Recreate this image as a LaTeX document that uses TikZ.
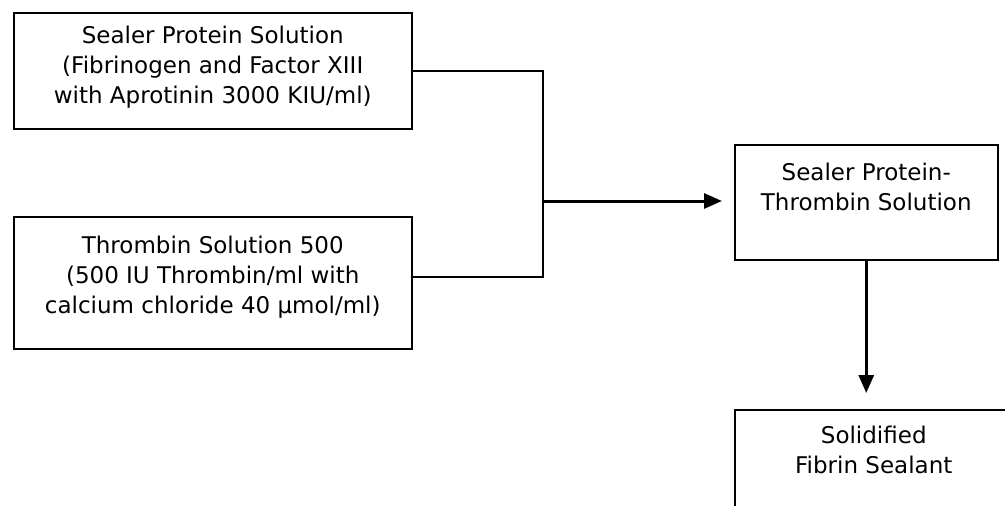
\documentclass[tikz,border=0pt]{standalone}
\usepackage{fontspec}
\setmainfont{DejaVu Sans}
\usetikzlibrary{arrows.meta}
\newcommand{\bxt}[4]
{
	\parbox[c][#2][t]{#1}{\centering\fontsize{23}{30}\selectfont\vspace*{#3}\strut #4}
}
\tikzset{
	stepbox/.style={draw, line width=1.5pt, inner sep=0pt, anchor=north west},
	joinline/.style={line width=1.5pt},
	flow/.style={line width=3pt, -{Triangle[length=18pt,width=15pt]}}
}

\begin{document}
\begin{tikzpicture}[x=1pt,y=-1pt]
	\useasboundingbox (0,0) rectangle (1005,506);
	\clip (0,0) rectangle (1005,506);
	\node[stepbox] (sealer) at (13,12)
	{\bxt{398pt}{116pt}{10pt}{Sealer Protein Solution\\(Fibrinogen and Factor XIII\\with Aprotinin 3000 KIU/ml)}};
	\node[stepbox] (thrombin) at (13,216)
	{\bxt{398pt}{132pt}{16pt}{Thrombin Solution 500\\(500 IU Thrombin/ml with\\calcium chloride 40 µmol/ml)}};
	\node[stepbox] (mixed) at (734,144)
	{\bxt{263pt}{115pt}{15pt}{Sealer Protein-\\Thrombin Solution}};
	\node[stepbox] (solid) at (734,409)
	{\bxt{278pt}{115pt}{13pt}{Solidified\\Fibrin Sealant}};
	\coordinate (join) at (543,201);
	\draw [joinline] (sealer.east) -| (join);
	\draw [joinline] ([yshift=6pt]thrombin.east) -| (join);
	\draw [flow, shorten >=12pt] (join) -- (join -| mixed.west);
	\draw [flow, shorten >=16pt] (mixed.south) -- (mixed.south |- solid.north);
\end{tikzpicture}
\end{document}
